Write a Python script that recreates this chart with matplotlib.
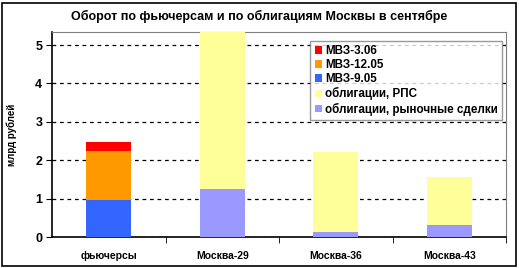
import matplotlib
matplotlib.use('Agg')
import numpy as np
from matplotlib import pyplot as plt
from matplotlib.patches import Rectangle

plt.rcParams['font.family'] = ['Liberation Sans', 'DejaVu Sans']

categories = ['фьючерсы', 'Москва-29', 'Москва-36', 'Москва-43']

# futures (first category only)
mvz_905 = [0.97, 0, 0, 0]
mvz_1205 = [1.27, 0, 0, 0]
mvz_306 = [0.23, 0, 0, 0]

# bonds
market = [0, 1.25, 0.13, 0.31]
rps = [0, 4.15, 2.08, 1.25]

fig = plt.figure(figsize=(5.19, 2.68), dpi=100)
ax = fig.add_axes([52 / 519, 1 - 237 / 268, (506 - 52) / 519, (237 - 32) / 268])

x = np.arange(len(categories))
w = 0.40

b = np.zeros(len(categories))
ax.bar(x, mvz_905, w, bottom=b, color='#3366FF', label='МВЗ-9.05', zorder=3)
b += mvz_905
ax.bar(x, mvz_1205, w, bottom=b, color='#FF9900', label='МВЗ-12.05', zorder=3)
b += mvz_1205
ax.bar(x, mvz_306, w, bottom=b, color='#FF0000', label='МВЗ-3.06', zorder=3)
b += mvz_306
ax.bar(x, market, w, bottom=b, color='#9999FF', label='облигации, рыночные сделки', zorder=3)
b += market
ax.bar(x, rps, w, bottom=b, color='#FFFF99', label='облигации, РПС', zorder=3)

ax.set_xlim(-0.5, len(categories) - 0.5)
ax.set_ylim(0, 5.34)
ax.set_yticks(range(6))
ax.yaxis.grid(True, linestyle=(0, (3, 3)), color='black', linewidth=0.9, zorder=0)

ax.set_xticks(x)
ax.set_xticklabels(categories, fontsize=7.5, fontweight='bold')
ax.set_xticks(np.arange(0.5, len(categories) - 0.5, 1).tolist() + [len(categories) - 0.5], minor=True)
ax.tick_params(axis='x', which='major', length=0, pad=10)
ax.tick_params(axis='x', which='minor', length=4, direction='out', color='black')
ax.tick_params(axis='y', labelsize=9, length=4, direction='out', pad=3)
for t in ax.get_yticklabels():
    t.set_fontweight('bold')

for s in ['top', 'right']:
    ax.spines[s].set_color('#808080')
for s in ['left', 'bottom']:
    ax.spines[s].set_color('black')
    ax.spines[s].set_linewidth(1.2)

ax.set_ylabel('млрд рублей', fontsize=7, fontweight='bold', labelpad=13)

handles, labels = ax.get_legend_handles_labels()
order = [2, 1, 0, 4, 3]
leg = ax.legend([handles[i] for i in order], [labels[i] for i in order],
                loc='upper right', bbox_to_anchor=(0.991, 0.956), borderaxespad=0,
                fontsize=8.4, frameon=True, fancybox=False, handlelength=0.6,
                handleheight=0.6, handletextpad=0.3, labelspacing=0.18, borderpad=0.35)
leg.get_frame().set_edgecolor('#808080')
leg.get_frame().set_linewidth(1.0)
for t in leg.get_texts():
    t.set_fontweight('bold')

fig.text(0.5, 1 - 16 / 268, 'Оборот по фьючерсам и по облигациям Москвы в сентябре',
         ha='center', va='center', fontsize=9, fontweight='bold')

fig.patches.append(Rectangle((0.003, 0.008), 0.992, 0.982, transform=fig.transFigure,
                             fill=False, edgecolor='black', linewidth=1.2))

fig.savefig('out.png', dpi=100)
